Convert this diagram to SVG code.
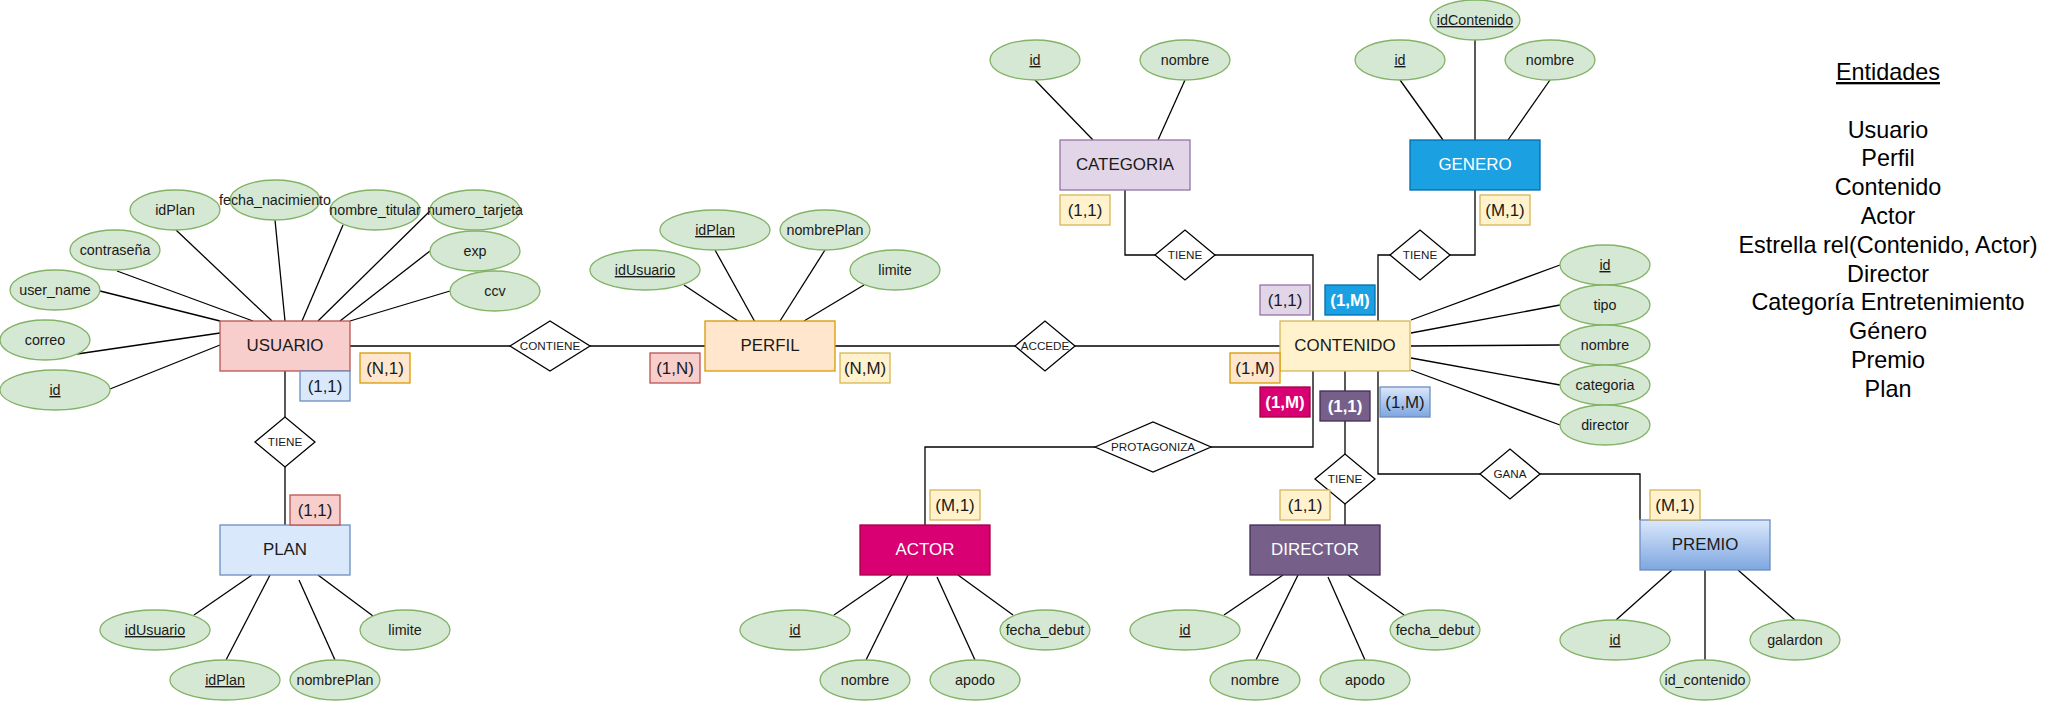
<svg xmlns="http://www.w3.org/2000/svg" width="2052" height="702" viewBox="0 0 2052 702">
<defs>
<linearGradient id="gBlue" x1="0" y1="0" x2="0" y2="1"><stop offset="0" stop-color="#dae8fc"/><stop offset="1" stop-color="#7ea6e0"/></linearGradient>
<style>
text{font-family:"Liberation Sans",Arial,sans-serif;fill:#1a1a1a;text-anchor:middle}
.ln{fill:none;stroke:#000;stroke-width:1.3}
.att ellipse{fill:#d5e8d4;stroke:#82b366;stroke-width:1.3}
.att text{font-size:14.3px}
.u{text-decoration:underline}
.ent text{font-size:16.9px}
.rel polygon{fill:#fff;stroke:#000;stroke-width:1.3}
.rel text{font-size:11.7px}
.card text{font-size:16.9px}
.w{fill:#fff!important}
.b{font-weight:bold}
.leg text{font-size:23.4px;fill:#000}
</style>
</defs>
<rect width="2052" height="702" fill="#fff"/>
<g id="connectors" class="ln">
<line x1="176" y1="230" x2="272" y2="321"/>
<line x1="275" y1="220" x2="285" y2="321"/>
<line x1="343" y1="225" x2="302" y2="321"/>
<line x1="430" y1="211" x2="318" y2="321"/>
<line x1="117" y1="271" x2="253" y2="321"/>
<line x1="430" y1="251" x2="340" y2="321"/>
<line x1="100" y1="291" x2="220" y2="321"/>
<line x1="450" y1="291" x2="350" y2="321"/>
<line x1="77" y1="354" x2="220" y2="333"/>
<line x1="110" y1="389" x2="220" y2="345"/>
<line x1="194" y1="615" x2="252" y2="575"/>
<line x1="226" y1="660" x2="270" y2="575"/>
<line x1="335" y1="660" x2="299" y2="580"/>
<line x1="373" y1="616" x2="318" y2="575"/>
<line x1="684" y1="285" x2="738" y2="321"/>
<line x1="715" y1="250" x2="755" y2="322"/>
<line x1="825" y1="250" x2="780" y2="321"/>
<line x1="864" y1="285" x2="804" y2="321"/>
<line x1="1035" y1="80" x2="1093" y2="140"/>
<line x1="1185" y1="80" x2="1158" y2="140"/>
<line x1="1400" y1="80" x2="1443" y2="140"/>
<line x1="1475" y1="40" x2="1475" y2="140"/>
<line x1="1550" y1="80" x2="1508" y2="140"/>
<line x1="1411" y1="320" x2="1560" y2="265"/>
<line x1="1411" y1="333" x2="1560" y2="305"/>
<line x1="1411" y1="346" x2="1560" y2="345"/>
<line x1="1411" y1="358" x2="1560" y2="385"/>
<line x1="1411" y1="370" x2="1560" y2="425"/>
<line x1="834" y1="615" x2="892" y2="575"/>
<line x1="866" y1="660" x2="908" y2="575"/>
<line x1="975" y1="660" x2="937" y2="577"/>
<line x1="1013" y1="615" x2="958" y2="575"/>
<line x1="1224" y1="615" x2="1283" y2="575"/>
<line x1="1256" y1="660" x2="1298" y2="575"/>
<line x1="1365" y1="660" x2="1328" y2="577"/>
<line x1="1404" y1="615" x2="1348" y2="575"/>
<line x1="1616" y1="620" x2="1672" y2="570"/>
<line x1="1705" y1="660" x2="1705" y2="570"/>
<line x1="1795" y1="620" x2="1738" y2="570"/>
<polyline points="350,346 510,346"/>
<polyline points="590,346 705,346"/>
<polyline points="835,346 1015,346"/>
<polyline points="1075,346 1280,346"/>
<polyline points="285,371 285,417"/>
<polyline points="285,467 285,525"/>
<polyline points="1125,190 1125,255 1155,255"/>
<polyline points="1215,255 1313,255 1313,321"/>
<polyline points="1475,190 1475,255 1450,255"/>
<polyline points="1390,255 1378,255 1378,321"/>
<polyline points="1313,371 1313,447 1211,447"/>
<polyline points="1095,447 925,447 925,525"/>
<polyline points="1345,371 1345,454"/>
<polyline points="1345,504 1345,525"/>
<polyline points="1378,371 1378,474 1480,474"/>
<polyline points="1540,474 1640,474 1640,520"/>
</g>
<g id="usuario-attrs" class="att">
<ellipse cx="175" cy="210" rx="45" ry="20"/><text x="175" y="215">idPlan</text>
<ellipse cx="275" cy="200" rx="45" ry="20"/><text x="275" y="205">fecha_nacimiento</text>
<ellipse cx="375" cy="210" rx="45" ry="20"/><text x="375" y="215">nombre_titular</text>
<ellipse cx="475" cy="210" rx="45" ry="20"/><text x="475" y="215">numero_tarjeta</text>
<ellipse cx="115" cy="250" rx="45" ry="20"/><text x="115" y="255">contraseña</text>
<ellipse cx="475" cy="251" rx="45" ry="20"/><text x="475" y="256">exp</text>
<ellipse cx="55" cy="290" rx="45" ry="20"/><text x="55" y="295">user_name</text>
<ellipse cx="495" cy="291" rx="45" ry="20"/><text x="495" y="296">ccv</text>
<ellipse cx="45" cy="340" rx="45" ry="20"/><text x="45" y="345">correo</text>
<ellipse cx="55" cy="390" rx="55" ry="20"/><text x="55" y="395" class="u">id</text>
</g>
<g id="plan-attrs" class="att">
<ellipse cx="155" cy="630" rx="55" ry="20"/><text x="155" y="635" class="u">idUsuario</text>
<ellipse cx="225" cy="680" rx="55" ry="20"/><text x="225" y="685" class="u">idPlan</text>
<ellipse cx="335" cy="680" rx="45" ry="20"/><text x="335" y="685">nombrePlan</text>
<ellipse cx="405" cy="630" rx="45" ry="20"/><text x="405" y="635">limite</text>
</g>
<g id="perfil-attrs" class="att">
<ellipse cx="645" cy="270" rx="55" ry="20"/><text x="645" y="275" class="u">idUsuario</text>
<ellipse cx="715" cy="230" rx="55" ry="20"/><text x="715" y="235" class="u">idPlan</text>
<ellipse cx="825" cy="230" rx="45" ry="20"/><text x="825" y="235">nombrePlan</text>
<ellipse cx="895" cy="270" rx="45" ry="20"/><text x="895" y="275">limite</text>
</g>
<g id="categoria-attrs" class="att">
<ellipse cx="1035" cy="60" rx="45" ry="20"/><text x="1035" y="65" class="u">id</text>
<ellipse cx="1185" cy="60" rx="45" ry="20"/><text x="1185" y="65">nombre</text>
</g>
<g id="genero-attrs" class="att">
<ellipse cx="1475" cy="20" rx="45" ry="20"/><text x="1475" y="25" class="u">idContenido</text>
<ellipse cx="1400" cy="60" rx="45" ry="20"/><text x="1400" y="65" class="u">id</text>
<ellipse cx="1550" cy="60" rx="45" ry="20"/><text x="1550" y="65">nombre</text>
</g>
<g id="contenido-attrs" class="att">
<ellipse cx="1605" cy="265" rx="45" ry="20"/><text x="1605" y="270" class="u">id</text>
<ellipse cx="1605" cy="305" rx="45" ry="20"/><text x="1605" y="310">tipo</text>
<ellipse cx="1605" cy="345" rx="45" ry="20"/><text x="1605" y="350">nombre</text>
<ellipse cx="1605" cy="385" rx="45" ry="20"/><text x="1605" y="390">categoria</text>
<ellipse cx="1605" cy="425" rx="45" ry="20"/><text x="1605" y="430">director</text>
</g>
<g id="actor-attrs" class="att">
<ellipse cx="795" cy="630" rx="55" ry="20"/><text x="795" y="635" class="u">id</text>
<ellipse cx="865" cy="680" rx="45" ry="20"/><text x="865" y="685">nombre</text>
<ellipse cx="975" cy="680" rx="45" ry="20"/><text x="975" y="685">apodo</text>
<ellipse cx="1045" cy="630" rx="45" ry="20"/><text x="1045" y="635">fecha_debut</text>
</g>
<g id="director-attrs" class="att">
<ellipse cx="1185" cy="630" rx="55" ry="20"/><text x="1185" y="635" class="u">id</text>
<ellipse cx="1255" cy="680" rx="45" ry="20"/><text x="1255" y="685">nombre</text>
<ellipse cx="1365" cy="680" rx="45" ry="20"/><text x="1365" y="685">apodo</text>
<ellipse cx="1435" cy="630" rx="45" ry="20"/><text x="1435" y="635">fecha_debut</text>
</g>
<g id="premio-attrs" class="att">
<ellipse cx="1615" cy="640" rx="55" ry="20"/><text x="1615" y="645" class="u">id</text>
<ellipse cx="1705" cy="680" rx="45" ry="20"/><text x="1705" y="685">id_contenido</text>
<ellipse cx="1795" cy="640" rx="45" ry="20"/><text x="1795" y="645">galardon</text>
</g>
<g id="usuario" class="ent"><rect x="220" y="321" width="130" height="50" fill="#f8cecc" stroke="#b85450" stroke-width="1.3"/><text x="285" y="351">USUARIO</text></g>
<g id="plan" class="ent"><rect x="220" y="525" width="130" height="50" fill="#dae8fc" stroke="#6c8ebf" stroke-width="1.3"/><text x="285" y="555">PLAN</text></g>
<g id="perfil" class="ent"><rect x="705" y="321" width="130" height="50" fill="#ffe6cc" stroke="#d79b00" stroke-width="1.3"/><text x="770" y="351">PERFIL</text></g>
<g id="contenido" class="ent"><rect x="1280" y="321" width="130" height="50" fill="#fff2cc" stroke="#d6b656" stroke-width="1.3"/><text x="1345" y="351">CONTENIDO</text></g>
<g id="categoria" class="ent"><rect x="1060" y="140" width="130" height="50" fill="#e1d5e7" stroke="#9673a6" stroke-width="1.3"/><text x="1125" y="170">CATEGORIA</text></g>
<g id="genero" class="ent"><rect x="1410" y="140" width="130" height="50" fill="#1ba1e2" stroke="#006eaf" stroke-width="1.3"/><text x="1475" y="170" class="w">GENERO</text></g>
<g id="actor" class="ent"><rect x="860" y="525" width="130" height="50" fill="#d80073" stroke="#a50040" stroke-width="1.3"/><text x="925" y="555" class="w">ACTOR</text></g>
<g id="director" class="ent"><rect x="1250" y="525" width="130" height="50" fill="#76608a" stroke="#432d57" stroke-width="1.3"/><text x="1315" y="555" class="w">DIRECTOR</text></g>
<g id="premio" class="ent"><rect x="1640" y="520" width="130" height="50" fill="url(#gBlue)" stroke="#6c8ebf" stroke-width="1.3"/><text x="1705" y="550">PREMIO</text></g>
<g id="rel-contiene" class="rel"><polygon points="510,346 550,321 590,346 550,371"/><text x="550" y="350">CONTIENE</text></g>
<g id="rel-tiene-plan" class="rel"><polygon points="255,442 285,417 315,442 285,467"/><text x="285" y="446">TIENE</text></g>
<g id="rel-accede" class="rel"><polygon points="1015,346 1045,321 1075,346 1045,371"/><text x="1045" y="350">ACCEDE</text></g>
<g id="rel-tiene-cat" class="rel"><polygon points="1155,255 1185,230 1215,255 1185,280"/><text x="1185" y="259">TIENE</text></g>
<g id="rel-tiene-gen" class="rel"><polygon points="1390,255 1420,230 1450,255 1420,280"/><text x="1420" y="259">TIENE</text></g>
<g id="rel-protagoniza" class="rel"><polygon points="1095,447 1153,422 1211,447 1153,472"/><text x="1153" y="451">PROTAGONIZA</text></g>
<g id="rel-tiene-dir" class="rel"><polygon points="1315,479 1345,454 1375,479 1345,504"/><text x="1345" y="483">TIENE</text></g>
<g id="rel-gana" class="rel"><polygon points="1480,474 1510,449 1540,474 1510,499"/><text x="1510" y="478">GANA</text></g>
<g id="cardinalities" class="card" stroke-width="1.3">
<rect x="360" y="353" width="50" height="30" fill="#ffe6cc" stroke="#d79b00"/><text x="385" y="374">(N,1)</text>
<rect x="300" y="371" width="50" height="30" fill="#dae8fc" stroke="#6c8ebf"/><text x="325" y="392">(1,1)</text>
<rect x="290" y="495" width="50" height="30" fill="#f8cecc" stroke="#b85450"/><text x="315" y="516">(1,1)</text>
<rect x="650" y="353" width="50" height="30" fill="#f8cecc" stroke="#b85450"/><text x="675" y="374">(1,N)</text>
<rect x="840" y="353" width="50" height="30" fill="#fff2cc" stroke="#d6b656"/><text x="865" y="374">(N,M)</text>
<rect x="1060" y="195" width="50" height="30" fill="#fff2cc" stroke="#d6b656"/><text x="1085" y="216">(1,1)</text>
<rect x="1480" y="195" width="50" height="30" fill="#fff2cc" stroke="#d6b656"/><text x="1505" y="216">(M,1)</text>
<rect x="1260" y="285" width="50" height="30" fill="#e1d5e7" stroke="#9673a6"/><text x="1285" y="306">(1,1)</text>
<rect x="1325" y="285" width="50" height="30" fill="#1ba1e2" stroke="#006eaf"/><text x="1350" y="306" class="w b">(1,M)</text>
<rect x="1230" y="353" width="50" height="30" fill="#ffe6cc" stroke="#d79b00"/><text x="1255" y="374">(1,M)</text>
<rect x="1260" y="387" width="50" height="30" fill="#d80073" stroke="#a50040"/><text x="1285" y="408" class="w b">(1,M)</text>
<rect x="1320" y="391" width="50" height="30" fill="#76608a" stroke="#432d57"/><text x="1345" y="412" class="w b">(1,1)</text>
<rect x="1380" y="387" width="50" height="30" fill="url(#gBlue)" stroke="#6c8ebf"/><text x="1405" y="408">(1,M)</text>
<rect x="930" y="490" width="50" height="30" fill="#fff2cc" stroke="#d6b656"/><text x="955" y="511">(M,1)</text>
<rect x="1280" y="490" width="50" height="30" fill="#fff2cc" stroke="#d6b656"/><text x="1305" y="511">(1,1)</text>
<rect x="1650" y="490" width="50" height="30" fill="#fff2cc" stroke="#d6b656"/><text x="1675" y="511">(M,1)</text>
</g>
<g id="legend" class="leg">
<text x="1888" y="80" class="u">Entidades</text>
<text x="1888" y="137.6">Usuario</text>
<text x="1888" y="166.4">Perfil</text>
<text x="1888" y="195.2">Contenido</text>
<text x="1888" y="224">Actor</text>
<text x="1888" y="252.8">Estrella rel(Contenido, Actor)</text>
<text x="1888" y="281.6">Director</text>
<text x="1888" y="310.4">Categoría Entretenimiento</text>
<text x="1888" y="339.2">Género</text>
<text x="1888" y="368">Premio</text>
<text x="1888" y="396.8">Plan</text>
</g>
</svg>
